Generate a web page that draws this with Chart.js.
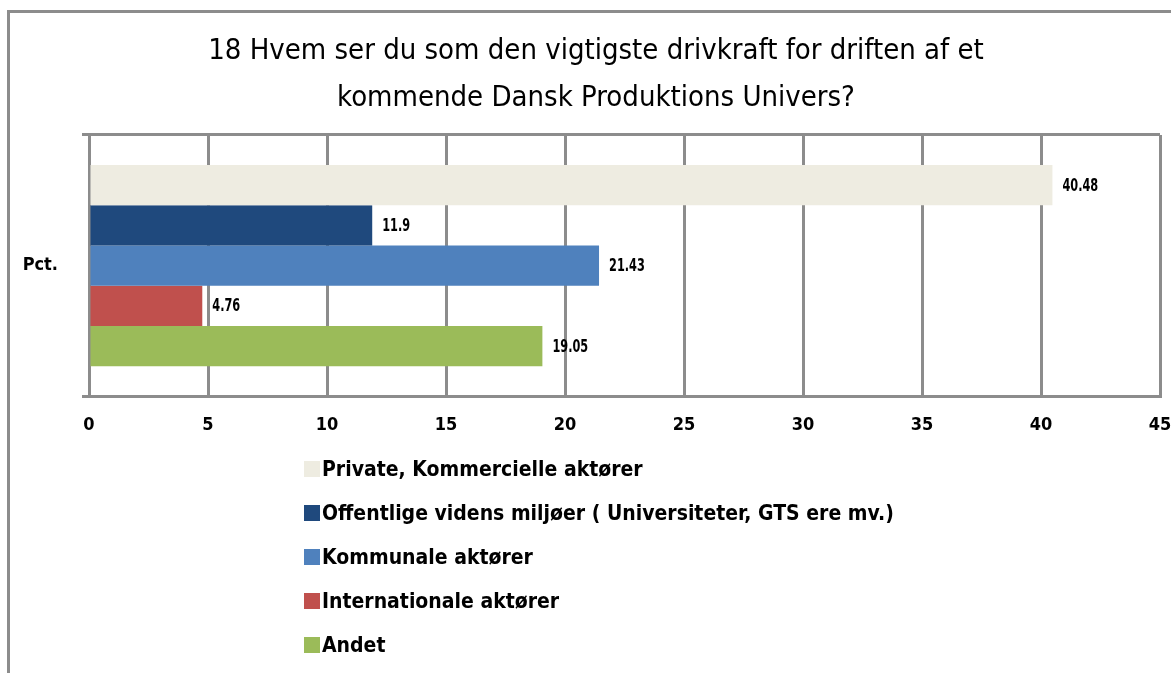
<!DOCTYPE html>
<html>
<head>
<meta charset="utf-8">
<script src="https://cdn.jsdelivr.net/npm/chart.js@4.4.1/dist/chart.umd.min.js"></script>
<style>
  html, body { margin: 0; padding: 0; background: #fff; overflow: hidden; }
  #frame {
    position: absolute; left: 7px; top: 10px; width: 1200px; height: 700px;
    border-left: 3px solid #8c8c8c; border-top: 3px solid #8c8c8c;
  }
  #wrap { position: absolute; left: 0; top: 0; width: 1171px; height: 673px; }
  #legend {
    position: absolute; left: 304px; top: 447px;
    font: bold 21px "DejaVu Sans Condensed", sans-serif;
    color: #000;
  }
  #legend .item { height: 44px; display: flex; align-items: center; white-space: nowrap; }
  #legend .box { width: 16px; height: 16px; margin-right: 2px; }
</style>
</head>
<body>
<div id="frame"></div>
<div id="wrap"><canvas id="chart"></canvas></div>
<div id="legend"></div>
<script>
const FONT = '"DejaVu Sans Condensed", sans-serif';

const categories = ['Pct.'];
const seriesNames = [
  'Private, Kommercielle aktører',
  'Offentlige videns miljøer ( Universiteter, GTS ere mv.)',
  'Kommunale aktører',
  'Internationale aktører',
  'Andet'
];
const seriesValues = [40.48, 11.9, 21.43, 4.76, 19.05];
const seriesColors = ['#eeece1', '#1f497d', '#4f81bd', '#c0504d', '#9bbb59'];
const xTicks = [0, 5, 10, 15, 20, 25, 30, 35, 40, 45];

const datasets = seriesNames.map((name, i) => ({
  label: name,
  data: [seriesValues[i]],
  backgroundColor: seriesColors[i],
  borderWidth: 0
}));

// value printed just past the end of each bar, squeezed a little sideways
const barValues = {
  id: 'barValues',
  afterDatasetsDraw(chart) {
    const ctx = chart.ctx;
    chart.data.datasets.forEach((ds, i) => {
      chart.getDatasetMeta(i).data.forEach((bar, j) => {
        ctx.save();
        ctx.translate(bar.x + 10, bar.y + 1);
        ctx.scale(0.74, 1);
        ctx.font = 'bold 17px ' + FONT;
        ctx.fillStyle = '#000';
        ctx.textAlign = 'left';
        ctx.textBaseline = 'middle';
        ctx.fillText(String(ds.data[j]), 0, 0);
        ctx.restore();
      });
    });
  }
};

// nudge the title block right so it centres over the plot, not the canvas
const titleShift = {
  id: 'titleShift',
  afterLayout(chart) {
    if (chart.titleBlock) chart.titleBlock.left = 32;
  }
};

const chart = new Chart(document.getElementById('chart'), {
  type: 'bar',
  data: { labels: categories, datasets: datasets },
  plugins: [barValues, titleShift],
  options: {
    indexAxis: 'y',
    responsive: true,
    maintainAspectRatio: false,
    animation: false,
    categoryPercentage: 0.77,
    barPercentage: 1,
    layout: { padding: { top: 0, left: 8, right: 11, bottom: 219 } },
    plugins: {
      legend: { display: false },
      tooltip: { enabled: false },
      title: {
        display: true,
        text: ['18 Hvem ser du som den vigtigste drivkraft for driften af et',
               'kommende Dansk Produktions Univers?'],
        color: '#000',
        font: { family: FONT, size: 29, weight: 'normal', lineHeight: 1.62 },
        padding: { top: 28, bottom: 13 }
      }
    },
    scales: {
      x: {
        min: 0,
        max: 45,
        afterBuildTicks(scale) { scale.ticks = xTicks.map(v => ({ value: v })); },
        // let the end labels hang past the plot edges
        afterFit(scale) { scale.paddingLeft = 0; scale.paddingRight = 0; },
        grid: { color: '#8c8c8c', lineWidth: 3, drawTicks: false },
        border: { color: '#8c8c8c', width: 3 },
        ticks: {
          color: '#000',
          padding: 18,
          maxRotation: 0,
          font: { family: FONT, size: 18, weight: 'bold' }
        }
      },
      y: {
        afterFit(scale) { scale.width = 81; },
        grid: { offset: true, color: '#8c8c8c', lineWidth: 3, tickLength: 7 },
        border: { color: '#8c8c8c', width: 3 },
        ticks: {
          color: '#000',
          padding: 24,
          font: { family: FONT, size: 18, weight: 'bold' }
        }
      }
    }
  }
});

// legend listed one entry per line under the plot
const legendEl = document.getElementById('legend');
chart.data.datasets.forEach(ds => {
  const row = document.createElement('div');
  row.className = 'item';
  const box = document.createElement('span');
  box.className = 'box';
  box.style.background = ds.backgroundColor;
  const txt = document.createElement('span');
  txt.textContent = ds.label;
  row.appendChild(box);
  row.appendChild(txt);
  legendEl.appendChild(row);
});
</script>
</body>
</html>
